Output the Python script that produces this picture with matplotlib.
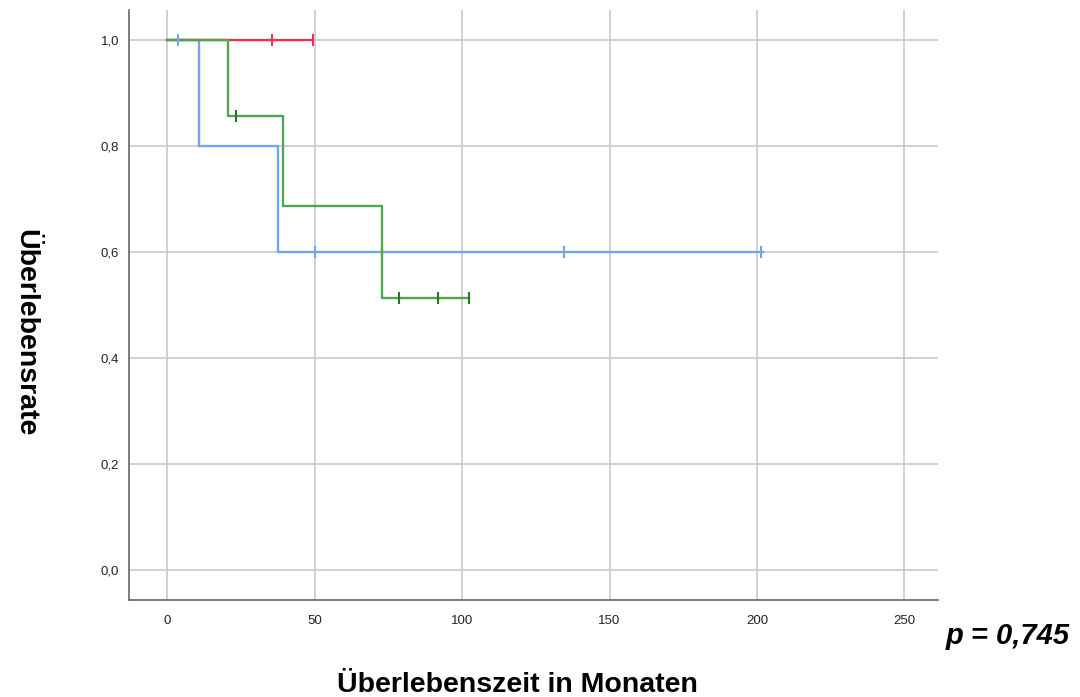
import matplotlib
matplotlib.use("Agg")
import matplotlib.pyplot as plt

# Data: Kaplan-Meier step curves (time, survival) and censor marks
blue_t = [0, 10.6, 10.6, 37.4, 37.4, 202]
blue_s = [1.0, 1.0, 0.8, 0.8, 0.6, 0.6]
blue_cens_t = [3.6, 50.2, 134.5, 201.5]
blue_cens_s = [1.0, 0.6, 0.6, 0.6]

green_t = [0, 20.6, 20.6, 39.3, 39.3, 72.8, 72.8, 102.5]
green_s = [1.0, 1.0, 0.857, 0.857, 0.686, 0.686, 0.514, 0.514]
green_cens_t = [23.4, 78.7, 91.7, 102.5]
green_cens_s = [0.857, 0.514, 0.514, 0.514]

red_t = [0, 49.3]
red_s = [1.0, 1.0]
red_cens_t = [35.5, 49.3]
red_cens_s = [1.0, 1.0]

x_ticks = [0, 50, 100, 150, 200, 250]
y_ticks = [0.0, 0.2, 0.4, 0.6, 0.8, 1.0]
y_ticklabels = ["0,0", "0,2", "0,4", "0,6", "0,8", "1,0"]

plt.rcParams['font.family'] = ['Liberation Sans', 'DejaVu Sans']

fig = plt.figure(figsize=(10.8, 6.97), dpi=100)
ax = fig.add_axes([0.1194, 0.1392, 0.8685 - 0.1194, 0.9857 - 0.1392])

blue = '#72a5ea'
green = '#55a255'
green_dark = '#247a24'
red = '#e2335c'

ax.plot(blue_t, blue_s, color=blue, lw=1.7, zorder=3)
ax.plot(red_t, red_s, color=red, lw=1.7, zorder=3)
ax.plot(green_t, green_s, color=green, lw=1.7, zorder=4)
ax.plot(blue_cens_t, blue_cens_s, ls='none', marker='|', ms=8, mew=1.5, color=blue, zorder=5)
ax.plot(red_cens_t, red_cens_s, ls='none', marker='|', ms=8, mew=1.5, color=red, zorder=5)
ax.plot(green_cens_t, green_cens_s, ls='none', marker='|', ms=8, mew=1.5, color=green_dark, zorder=5)

ax.set_xlim(-13, 261.4)
ax.set_ylim(-0.057, 1.057)
ax.set_xticks(x_ticks)
ax.set_yticks(y_ticks)
ax.set_yticklabels(y_ticklabels)
ax.tick_params(length=0, labelsize=9.5, colors='#222222')
ax.tick_params(axis='y', pad=7)
ax.tick_params(axis='x', pad=11)
ax.grid(True, color='#c8c8c8', lw=1.2)
ax.set_axisbelow(True)
for s in ['top', 'right']:
    ax.spines[s].set_visible(False)
for s in ['left', 'bottom']:
    ax.spines[s].set_color('#666666')
    ax.spines[s].set_linewidth(1.2)

fig.text(0.023, 0.522, 'Überlebensrate', rotation=270, fontsize=20.5, fontweight='bold',
         ha='center', va='center')
fig.text(0.4795, 5 / 697, 'Überlebenszeit in Monaten', fontsize=20.5, fontweight='bold',
         ha='center', va='baseline')
fig.text(0.9335, 1 - 636 / 697, 'p = 0,745', fontsize=21, fontweight='bold', fontstyle='italic',
         ha='center', va='center')

fig.savefig('out.png', dpi=100)
